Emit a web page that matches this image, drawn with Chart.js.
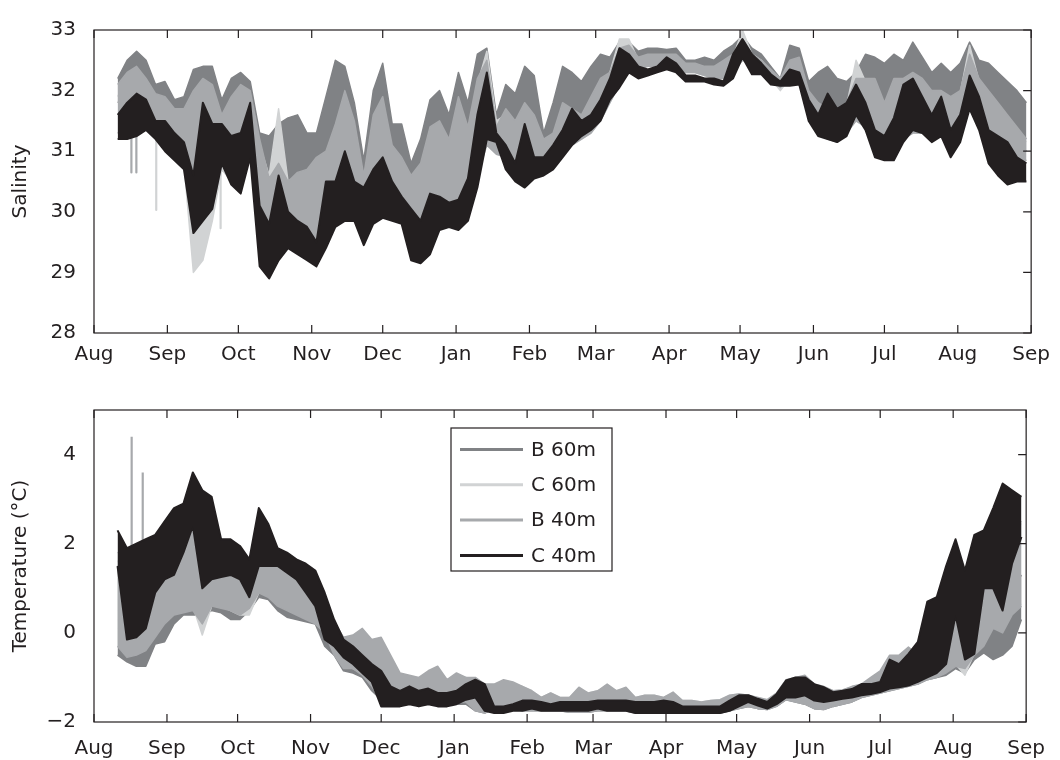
<!DOCTYPE html>
<html>
<head>
<meta charset="utf-8">
<script src="https://cdn.jsdelivr.net/npm/chart.js@4.4.1/dist/chart.umd.min.js"></script>
<style>
  html, body { margin: 0; padding: 0; background: #fff; }
  #wrap { position: relative; width: 1060px; height: 760px; }
  canvas { position: absolute; left: 0; }
  #salinity { top: 0; }
  #temperature { top: 380px; }
</style>
</head>
<body>
<div id="wrap">
  <canvas id="salinity" width="1060" height="380"></canvas>
  <canvas id="temperature" width="1060" height="380"></canvas>
</div>
<script>
'use strict';

// days since 1 Aug, month boundaries for the axis
var monthStarts = [0, 31, 61, 92, 122, 153, 184, 212, 243, 273, 304, 334, 365, 396];
var monthLabels = ['Aug', 'Sep', 'Oct', 'Nov', 'Dec', 'Jan', 'Feb', 'Mar', 'Apr', 'May', 'Jun', 'Jul', 'Aug', 'Sep'];

var salTicks = [28, 29, 30, 31, 32, 33];
var tmpTicks = [-2, 0, 2, 4];

var seriesNames = ['B 60m', 'C 60m', 'B 40m', 'C 40m'];
var seriesColors = ['#808285', '#d1d3d4', '#a7a9ac', '#231f20'];

// sample days (every 4 days), each series given as the upper / lower edge of its noisy band
var days = [10, 14, 18, 22, 26, 30,
    34, 38, 42, 46, 50, 54, 58,
    62, 66, 70, 74, 78, 82, 86, 90,
    94, 98, 102, 106, 110, 114, 118,
    122, 126, 130, 134, 138, 142, 146, 150,
    154, 158, 162, 166, 170, 174, 178, 182,
    186, 190, 194, 198, 202, 206, 210,
    214, 218, 222, 226, 230, 234, 238, 242,
    246, 250, 254, 258, 262, 266, 270,
    274, 278, 282, 286, 290, 294, 298, 302,
    306, 310, 314, 318, 322, 326, 330,
    334, 338, 342, 346, 350, 354, 358, 362,
    366, 370, 374, 378, 382, 386, 390, 394];

// ---- salinity ----
var salB60Hi = [32.2, 32.5, 32.65, 32.5, 32.1, 32.15,
    31.85, 31.9, 32.35, 32.4, 32.4, 31.85, 32.2,
    32.3, 32.15, 31.3, 31.25, 31.45, 31.55, 31.6, 31.3,
    31.3, 31.9, 32.5, 32.4, 31.8, 30.85, 32.0,
    32.45, 31.45, 31.45, 30.8, 31.2, 31.85, 32.0, 31.6,
    32.3, 31.8, 32.6, 32.7, 31.6, 32.1, 31.95, 32.4,
    32.25, 31.3, 31.8, 32.4, 32.3, 32.15, 32.4,
    32.6, 32.55, 32.8, 32.8, 32.65, 32.7, 32.7, 32.68,
    32.7, 32.5, 32.5, 32.55, 32.5, 32.65, 32.75,
    32.9, 32.7, 32.6, 32.4, 32.2, 32.75, 32.7, 32.15,
    32.3, 32.4, 32.2, 32.15, 32.3, 32.6, 32.55,
    32.45, 32.6, 32.5, 32.8, 32.55, 32.3, 32.45, 32.3,
    32.45, 32.8, 32.5, 32.45, 32.3, 32.15, 32.0, 31.8];
var salB60Lo = [31.8, 31.9, 32.0, 31.9, 31.7, 31.6,
    31.4, 31.3, 31.4, 31.5, 31.4, 31.2, 31.3,
    31.4, 31.4, 30.5, 30.3, 30.5, 30.4, 30.4, 30.4,
    30.5, 30.6, 30.9, 31.2, 30.8, 30.2, 30.6,
    30.9, 30.5, 30.4, 30.0, 30.1, 30.5, 30.7, 30.6,
    30.9, 30.8, 31.4, 31.8, 31.2, 31.2, 31.0, 31.1,
    31.1, 30.9, 31.0, 31.3, 31.4, 31.4, 31.6,
    31.9, 32.0, 32.3, 32.4, 32.4, 32.45, 32.45, 32.5,
    32.5, 32.35, 32.35, 32.3, 32.25, 32.3, 32.4,
    32.6, 32.5, 32.4, 32.25, 32.1, 32.3, 32.3, 31.7,
    31.5, 31.4, 31.4, 31.5, 31.7, 31.7, 31.4,
    31.3, 31.5, 31.6, 31.7, 31.6, 31.6, 31.6, 31.5,
    31.6, 32.0, 31.7, 31.4, 31.3, 31.2, 31.1, 31.0];
var salC60Hi = [31.9, 32.2, 32.3, 32.1, 31.8, 31.8,
    31.6, 31.6, 31.8, 32.0, 31.9, 31.5, 31.8,
    32.0, 31.9, 31.1, 30.6, 31.7, 30.5, 30.6, 30.6,
    30.8, 30.9, 31.3, 31.8, 31.4, 30.5, 31.5,
    31.8, 31.0, 30.8, 30.5, 30.7, 31.3, 31.4, 31.1,
    31.8, 31.3, 32.1, 32.65, 31.5, 31.6, 31.4, 31.7,
    31.5, 31.1, 31.2, 31.7, 31.6, 31.5, 31.8,
    32.1, 32.3, 32.85, 32.85, 32.5, 32.55, 32.55, 32.55,
    32.55, 32.4, 32.4, 32.35, 32.35, 32.45, 32.55,
    33.0, 32.6, 32.5, 32.3, 32.15, 32.45, 32.5, 31.95,
    31.75, 31.65, 31.65, 31.75, 32.5, 32.15, 32.1,
    31.75, 32.1, 32.1, 32.25, 32.1, 31.95, 31.95, 31.85,
    31.95, 32.75, 32.15, 31.95, 31.75, 31.55, 31.35, 31.15];
var salC60Lo = [31.3, 31.4, 31.4, 31.4, 31.3, 31.2,
    31.05, 30.8, 29.0, 29.2, 29.85, 30.7, 30.5,
    30.5, 31.0, 29.6, 29.4, 29.5, 29.6, 29.6, 29.6,
    29.6, 29.9, 30.1, 30.2, 30.1, 29.7, 30.0,
    30.0, 30.0, 29.9, 29.5, 29.5, 29.7, 29.9, 30.0,
    30.2, 30.3, 30.7, 31.2, 31.0, 30.9, 30.7, 30.6,
    30.7, 30.7, 30.8, 31.0, 31.1, 31.2, 31.3,
    31.5, 31.8, 32.1, 32.3, 32.35, 32.4, 32.4, 32.45,
    32.45, 32.3, 32.3, 32.25, 32.2, 32.2, 32.3,
    32.5, 32.45, 32.35, 32.2, 32.0, 32.2, 32.2, 31.6,
    31.3, 31.2, 31.15, 31.3, 31.5, 31.4, 31.0,
    30.9, 31.0, 31.2, 31.3, 31.3, 31.4, 31.3, 31.2,
    31.3, 31.7, 31.4, 31.0, 30.9, 30.8, 30.8, 30.85];
var salB40Hi = [32.1, 32.3, 32.4, 32.2, 31.95, 31.9,
    31.7, 31.7, 32.0, 32.2, 32.1, 31.6, 31.9,
    32.1, 32.0, 31.2, 30.55, 30.8, 30.5, 30.65, 30.7,
    30.9, 31.0, 31.45, 32.0, 31.5, 30.6, 31.6,
    31.9, 31.1, 30.9, 30.6, 30.8, 31.4, 31.5, 31.2,
    31.9, 31.4, 32.2, 32.5, 31.4, 31.7, 31.5, 31.8,
    31.6, 31.2, 31.3, 31.8, 31.7, 31.6, 31.9,
    32.2, 32.3, 32.7, 32.75, 32.55, 32.6, 32.6, 32.6,
    32.6, 32.45, 32.45, 32.4, 32.4, 32.5, 32.6,
    32.85, 32.6, 32.5, 32.35, 32.2, 32.5, 32.55, 32.0,
    31.8, 31.7, 31.7, 31.8, 32.2, 32.2, 32.2,
    31.8, 32.2, 32.2, 32.3, 32.2, 32.0, 32.0, 31.9,
    32.0, 32.6, 32.2, 32.0, 31.8, 31.6, 31.4, 31.2];
var salB40Lo = [31.3, 31.3, 31.4, 31.4, 31.35, 31.1,
    31.0, 30.9, 30.4, 30.05, 30.05, 30.8, 30.55,
    30.5, 31.0, 29.55, 29.3, 29.3, 29.55, 29.5, 29.5,
    29.5, 29.8, 30.05, 30.05, 30.05, 29.6, 29.9,
    29.95, 29.95, 29.8, 29.4, 29.4, 29.6, 29.85, 29.9,
    30.1, 30.2, 30.6, 31.1, 30.95, 30.9, 30.65, 30.55,
    30.6, 30.7, 30.8, 31.0, 31.1, 31.2, 31.3,
    31.5, 31.8, 32.1, 32.3, 32.35, 32.4, 32.4, 32.45,
    32.45, 32.3, 32.3, 32.25, 32.2, 32.2, 32.3,
    32.5, 32.45, 32.35, 32.2, 32.05, 32.2, 32.2, 31.6,
    31.3, 31.2, 31.15, 31.3, 31.5, 31.4, 31.0,
    30.9, 31.0, 31.2, 31.3, 31.3, 31.4, 31.3, 31.2,
    31.3, 31.7, 31.4, 31.0, 30.9, 30.8, 30.8, 30.85];
var salC40Hi = [31.6, 31.8, 31.95, 31.85, 31.5, 31.5,
    31.3, 31.15, 30.6, 31.8, 31.45, 31.45, 31.25,
    31.3, 31.8, 30.1, 29.8, 30.6, 30.0, 29.85, 29.75,
    29.5, 30.5, 30.5, 31.0, 30.5, 30.4, 30.7,
    30.9, 30.5, 30.25, 30.05, 29.85, 30.3, 30.25, 30.15,
    30.2, 30.55, 31.6, 32.3, 31.3, 31.1, 30.8, 31.45,
    30.9, 30.9, 31.1, 31.35, 31.7, 31.5, 31.6,
    31.85, 32.2, 32.7, 32.6, 32.4, 32.35, 32.4, 32.55,
    32.45, 32.25, 32.25, 32.2, 32.2, 32.15, 32.6,
    32.85, 32.6, 32.45, 32.27, 32.15, 32.35, 32.3, 31.85,
    31.6, 31.95, 31.7, 31.8, 32.1, 31.8, 31.35,
    31.25, 31.55, 32.1, 32.2, 31.9, 31.6, 31.9, 31.35,
    31.6, 32.25, 31.9, 31.35, 31.25, 31.15, 30.9, 30.8];
var salC40Lo = [31.2, 31.2, 31.25, 31.35, 31.2, 31.0,
    30.85, 30.7, 29.65, 29.85, 30.05, 30.8, 30.45,
    30.3, 30.9, 29.1, 28.9, 29.2, 29.4, 29.3, 29.2,
    29.1, 29.4, 29.75, 29.85, 29.85, 29.45, 29.8,
    29.9, 29.85, 29.8, 29.2, 29.15, 29.3, 29.7, 29.75,
    29.7, 29.85, 30.4, 31.2, 31.15, 30.7, 30.5, 30.4,
    30.55, 30.6, 30.7, 30.9, 31.1, 31.25, 31.35,
    31.5, 31.85, 32.05, 32.3, 32.2, 32.25, 32.3, 32.35,
    32.3, 32.15, 32.15, 32.15, 32.1, 32.08, 32.2,
    32.55, 32.27, 32.27, 32.1, 32.08, 32.08, 32.1, 31.5,
    31.25, 31.2, 31.15, 31.25, 31.6, 31.35, 30.9,
    30.85, 30.85, 31.15, 31.35, 31.3, 31.15, 31.25, 30.9,
    31.15, 31.7, 31.35, 30.8, 30.6, 30.45, 30.5, 30.5];

// single-sample spikes in salinity: [series index, day, from, to]
var salSpikes = [
    [2, 15.8, 31.3, 30.65],
    [2, 17.9, 31.3, 30.65],
    [1, 26.3, 31.3, 30.03],
    [1, 53.5, 30.8, 29.73]
];

// ---- temperature ----
var tmpB60Hi = [1.5, 1.4, 1.3, 1.2, 1.3, 1.5,
    1.7, 1.8, 1.6, 1.4, 1.5, 1.2, 1.1,
    1.0, 0.9, 1.5, 1.4, 1.1, 1.0, 0.9, 0.8,
    0.7, 0.5, 0.1, -0.2, -0.3, -0.4, -0.5,
    -0.6, -0.9, -1.1, -1.1, -1.15, -1.0, -0.9, -1.1,
    -1.0, -1.05, -1.1, -1.2, -1.2, -1.1, -1.15, -1.25,
    -1.35, -1.5, -1.4, -1.5, -1.5, -1.3, -1.4,
    -1.35, -1.2, -1.35, -1.25, -1.5, -1.45, -1.45, -1.5,
    -1.4, -1.55, -1.55, -1.58, -1.55, -1.52, -1.42,
    -1.4, -1.42, -1.48, -1.52, -1.38, -1.1, -1.05, -1.0,
    -1.2, -1.25, -1.33, -1.3, -1.25, -1.2, -1.1,
    -1.0, -0.7, -0.75, -0.6, -0.7, -0.7, 0.0, 0.2,
    0.4, 0.3, 0.6, 0.8, 0.9, 0.7, 0.9, 1.3];
var tmpB60Lo = [-0.5, -0.65, -0.75, -0.75, -0.25, -0.2,
    0.2, 0.4, 0.4, 0.4, 0.5, 0.45, 0.3,
    0.3, 0.5, 0.8, 0.75, 0.5, 0.35, 0.3, 0.25,
    0.2, -0.3, -0.5, -0.85, -0.9, -1.0, -1.3,
    -1.5, -1.55, -1.55, -1.5, -1.55, -1.55, -1.55, -1.6,
    -1.6, -1.6, -1.75, -1.8, -1.7, -1.7, -1.7, -1.75,
    -1.75, -1.75, -1.75, -1.75, -1.78, -1.78, -1.78,
    -1.75, -1.75, -1.75, -1.75, -1.8, -1.8, -1.8, -1.8,
    -1.8, -1.8, -1.8, -1.8, -1.8, -1.8, -1.75,
    -1.7, -1.65, -1.7, -1.72, -1.65, -1.5, -1.55, -1.6,
    -1.7, -1.72, -1.65, -1.6, -1.55, -1.45, -1.4,
    -1.35, -1.3, -1.25, -1.2, -1.15, -1.05, -1.0, -0.95,
    -0.8, -0.9, -0.6, -0.45, -0.6, -0.5, -0.3, 0.3];
var tmpC60Hi = [1.6, 1.7, 1.5, 1.4, 1.6, 2.0,
    2.2, 2.5, 2.4, 2.3, 2.6, 1.8, 1.6,
    1.4, 1.2, 2.2, 2.0, 1.5, 1.4, 1.3, 1.2,
    1.1, 0.7, 0.2, -0.1, -0.1, 0.0, -0.3,
    -0.2, -0.6, -0.95, -1.0, -1.05, -0.9, -0.8, -1.05,
    -0.95, -1.0, -1.05, -1.15, -1.2, -1.1, -1.15, -1.2,
    -1.3, -1.45, -1.35, -1.45, -1.45, -1.25, -1.35,
    -1.3, -1.2, -1.3, -1.25, -1.45, -1.4, -1.4, -1.45,
    -1.35, -1.52, -1.52, -1.55, -1.52, -1.5, -1.4,
    -1.37, -1.4, -1.45, -1.5, -1.35, -1.08, -1.02, -0.98,
    -1.17, -1.22, -1.3, -1.28, -1.22, -1.17, -1.05,
    -0.9, -0.55, -0.55, -0.4, -0.55, -0.6, 0.2, 0.45,
    0.75, 0.55, 1.2, 1.25, 1.75, 2.25, 2.35, 2.45];
var tmpC60Lo = [-0.3, -0.4, -0.4, -0.35, 0.0, 0.3,
    0.5, 0.5, 0.6, -0.05, 0.6, 0.6, 0.5,
    0.4, 0.4, 0.9, 0.85, 0.7, 0.6, 0.5, 0.4,
    0.3, 0.0, -0.4, -0.7, -0.8, -0.9, -1.1,
    -1.4, -1.45, -1.45, -1.4, -1.45, -1.45, -1.45, -1.5,
    -1.5, -1.5, -1.6, -1.7, -1.65, -1.65, -1.65, -1.7,
    -1.7, -1.7, -1.7, -1.7, -1.72, -1.72, -1.72,
    -1.7, -1.7, -1.7, -1.7, -1.75, -1.75, -1.75, -1.75,
    -1.75, -1.75, -1.75, -1.75, -1.75, -1.75, -1.72,
    -1.68, -1.62, -1.68, -1.7, -1.62, -1.48, -1.5, -1.55,
    -1.65, -1.68, -1.62, -1.58, -1.52, -1.43, -1.38,
    -1.33, -1.28, -1.22, -1.18, -1.12, -1.02, -0.95, -0.85,
    -0.7, -0.95, -0.45, -0.25, 0.15, 0.05, 0.45, 0.65];
var tmpB40Hi = [1.8, 1.85, 1.6, 1.5, 1.8, 2.2,
    2.4, 2.7, 2.6, 2.5, 2.85, 1.9, 1.7,
    1.5, 1.3, 2.4, 2.1, 1.5, 1.5, 1.4, 1.3,
    1.2, 0.8, 0.25, -0.1, -0.05, 0.1, -0.15,
    -0.1, -0.5, -0.9, -0.95, -1.0, -0.85, -0.75, -1.05,
    -0.9, -1.0, -1.0, -1.15, -1.15, -1.05, -1.1, -1.2,
    -1.3, -1.45, -1.35, -1.45, -1.45, -1.22, -1.35,
    -1.3, -1.15, -1.3, -1.22, -1.45, -1.4, -1.4, -1.45,
    -1.33, -1.52, -1.52, -1.55, -1.52, -1.5, -1.4,
    -1.37, -1.4, -1.45, -1.5, -1.35, -1.05, -1.0, -0.95,
    -1.15, -1.2, -1.3, -1.28, -1.2, -1.15, -1.0,
    -0.85, -0.5, -0.5, -0.32, -0.5, -0.6, 0.28, 0.5,
    0.8, 0.6, 1.25, 1.3, 1.8, 2.3, 2.4, 2.5];
var tmpB40Lo = [-0.3, -0.55, -0.5, -0.4, -0.1, 0.2,
    0.4, 0.45, 0.5, 0.2, 0.6, 0.55, 0.5,
    0.4, 0.55, 0.9, 0.8, 0.6, 0.5, 0.4, 0.3,
    0.2, 0.0, -0.5, -0.8, -0.8, -0.95, -1.2,
    -1.5, -1.5, -1.5, -1.45, -1.5, -1.5, -1.5, -1.55,
    -1.55, -1.55, -1.75, -1.8, -1.7, -1.7, -1.7, -1.75,
    -1.75, -1.75, -1.75, -1.75, -1.78, -1.78, -1.78,
    -1.75, -1.75, -1.75, -1.75, -1.8, -1.8, -1.8, -1.8,
    -1.8, -1.8, -1.8, -1.8, -1.8, -1.8, -1.75,
    -1.7, -1.65, -1.7, -1.72, -1.65, -1.5, -1.55, -1.6,
    -1.7, -1.72, -1.65, -1.6, -1.55, -1.45, -1.4,
    -1.35, -1.3, -1.25, -1.2, -1.15, -1.05, -1.0, -0.9,
    -0.75, -0.8, -0.5, -0.3, 0.1, 0.0, 0.4, 0.6];
var tmpC40Hi = [2.3, 1.9, 2.0, 2.1, 2.2, 2.5,
    2.8, 2.9, 3.6, 3.2, 3.05, 2.1, 2.1,
    1.95, 1.65, 2.8, 2.45, 1.9, 1.8, 1.65, 1.55,
    1.4, 0.9, 0.3, -0.15, -0.3, -0.5, -0.7,
    -0.85, -1.2, -1.3, -1.2, -1.3, -1.25, -1.35, -1.35,
    -1.3, -1.15, -1.05, -1.15, -1.65, -1.65, -1.6, -1.52,
    -1.52, -1.55, -1.6, -1.55, -1.55, -1.55, -1.55,
    -1.52, -1.52, -1.52, -1.52, -1.55, -1.55, -1.55, -1.52,
    -1.55, -1.65, -1.65, -1.65, -1.65, -1.65, -1.52,
    -1.4, -1.4, -1.48, -1.55, -1.37, -1.07, -1.0, -1.0,
    -1.15, -1.22, -1.33, -1.3, -1.26, -1.15, -1.15,
    -1.1, -0.6, -0.7, -0.47, -0.2, 0.7, 0.8, 1.5,
    2.1, 1.4, 2.2, 2.3, 2.8, 3.35, 3.2, 3.05];
var tmpC40Lo = [1.5, -0.15, -0.1, 0.1, 0.9, 1.2,
    1.3, 1.8, 2.4, 1.0, 1.2, 1.25, 1.3,
    1.2, 0.8, 1.5, 1.5, 1.5, 1.35, 1.2, 0.9,
    0.6, -0.15, -0.3, -0.55, -0.7, -0.9, -1.1,
    -1.65, -1.65, -1.65, -1.6, -1.65, -1.6, -1.65, -1.65,
    -1.6, -1.5, -1.45, -1.75, -1.8, -1.8, -1.75, -1.75,
    -1.7, -1.75, -1.75, -1.75, -1.75, -1.75, -1.75,
    -1.7, -1.75, -1.75, -1.75, -1.8, -1.8, -1.8, -1.8,
    -1.8, -1.8, -1.8, -1.8, -1.8, -1.8, -1.75,
    -1.65, -1.55, -1.63, -1.7, -1.6, -1.45, -1.45, -1.4,
    -1.52, -1.55, -1.52, -1.48, -1.45, -1.4, -1.37,
    -1.33, -1.25, -1.22, -1.18, -1.1, -1.0, -0.9, -0.7,
    0.4, -0.6, -0.47, 1.0, 1.0, 0.5, 1.55, 2.15];

var tmpSpikes = [
    [2, 16.0, 1.8, 4.4],
    [2, 20.7, 1.6, 3.6]
];

var ink = '#231f20';
var fontFamily = '"DejaVu Sans", "Liberation Sans", sans-serif';

Chart.defaults.font.family = fontFamily;
Chart.defaults.font.size = 20;
Chart.defaults.color = ink;

function toPoints(values) {
    var pts = [];
    for (var i = 0; i < days.length; i++) {
        pts.push({ x: days[i], y: values[i] });
    }
    return pts;
}

// dataset 0 is painted last in Chart.js, so C 40m goes first
function buildDatasets(his, los, spikes) {
    var out = [];
    for (var s = seriesNames.length - 1; s >= 0; s--) {
        var color = seriesColors[s];
        var w = s === 3 ? 2 : 1.5;
        out.push({
            label: seriesNames[s], data: toPoints(his[s]),
            borderColor: color, backgroundColor: color, borderWidth: w, fill: '+1'
        });
        out.push({
            label: seriesNames[s] + ' low', data: toPoints(los[s]),
            borderColor: color, borderWidth: w, fill: false
        });
    }
    for (var k = 0; k < spikes.length; k++) {
        var sp = spikes[k];
        out.push({
            label: 'spike', data: [{ x: sp[1], y: sp[2] }, { x: sp[1], y: sp[3] }],
            borderColor: seriesColors[sp[0]], borderWidth: 2.2, fill: false
        });
    }
    return out;
}

var framePlugin = {
    id: 'frame',
    afterDraw: function (chart) {
        var ctx = chart.ctx;
        var a = chart.chartArea;
        var xs = chart.scales.x;
        var ys = chart.scales.y;
        ctx.save();
        ctx.strokeStyle = ink;
        ctx.lineWidth = 1.2;
        ctx.strokeRect(a.left, a.top, a.right - a.left, a.bottom - a.top);
        ctx.beginPath();
        xs.ticks.forEach(function (t) {
            var px = xs.getPixelForValue(t.value);
            ctx.moveTo(px, a.bottom);
            ctx.lineTo(px, a.bottom - 8);
            ctx.moveTo(px, a.top);
            ctx.lineTo(px, a.top + 8);
        });
        ys.ticks.forEach(function (t) {
            var py = ys.getPixelForValue(t.value);
            ctx.moveTo(a.right, py);
            ctx.lineTo(a.right - 8, py);
        });
        ctx.stroke();
        ctx.restore();
    }
};

var legendBoxPlugin = {
    id: 'legendBox',
    afterDraw: function (chart) {
        var ctx = chart.ctx;
        var a = chart.chartArea;
        var left = a.left + 357;
        var top = a.top + 18;
        ctx.save();
        ctx.fillStyle = '#fff';
        ctx.fillRect(left, top, 161, 143);
        ctx.strokeStyle = ink;
        ctx.lineWidth = 1.2;
        ctx.strokeRect(left, top, 161, 143);
        ctx.font = '20px ' + fontFamily;
        ctx.textBaseline = 'middle';
        ctx.textAlign = 'left';
        for (var s = 0; s < seriesNames.length; s++) {
            var y = top + 21.5 + s * 35.3;
            ctx.strokeStyle = seriesColors[s];
            ctx.lineWidth = 3;
            ctx.beginPath();
            ctx.moveTo(left + 9, y);
            ctx.lineTo(left + 72, y);
            ctx.stroke();
            ctx.fillStyle = ink;
            ctx.fillText(seriesNames[s], left + 80, y + 1);
        }
        ctx.restore();
    }
};

function makeChart(canvasId, datasets, yOpts, layoutTop, xHeight, xPad, plugins) {
    return new Chart(document.getElementById(canvasId), {
        type: 'line',
        data: { datasets: datasets },
        options: {
            responsive: false,
            animation: false,
            devicePixelRatio: 1,
            layout: { padding: { top: layoutTop, right: 21, left: 0, bottom: 0 } },
            elements: { point: { radius: 0 }, line: { tension: 0, borderJoinStyle: 'round' } },
            plugins: { legend: { display: false }, tooltip: { enabled: false } },
            scales: {
                x: {
                    type: 'linear', min: 0, max: 396,
                    grid: { display: false, drawTicks: false },
                    border: { display: false },
                    afterBuildTicks: function (scale) {
                        scale.ticks = monthStarts.map(function (v) { return { value: v }; });
                    },
                    afterFit: function (scale) { scale.height = xHeight; },
                    ticks: {
                        autoSkip: false, maxRotation: 0, padding: xPad,
                        callback: function (v) { return monthLabels[monthStarts.indexOf(v)]; }
                    }
                },
                y: {
                    min: yOpts.min, max: yOpts.max,
                    grid: { display: false, drawTicks: false },
                    border: { display: false },
                    afterBuildTicks: function (scale) {
                        scale.ticks = yOpts.ticks.map(function (v) { return { value: v }; });
                    },
                    afterFit: function (scale) { scale.width = 94; },
                    ticks: {
                        padding: 18,
                        callback: function (v) { return v < 0 ? '\u2212' + Math.abs(v) : String(v); }
                    },
                    title: { display: true, text: yOpts.title, font: { size: 20 }, padding: { top: 9, bottom: 0 } }
                }
            }
        },
        plugins: plugins
    });
}

makeChart('salinity',
    buildDatasets([salB60Hi, salC60Hi, salB40Hi, salC40Hi], [salB60Lo, salC60Lo, salB40Lo, salC40Lo], salSpikes),
    { min: 28, max: 33, ticks: salTicks, title: 'Salinity' },
    25, 47, 10, [framePlugin]);

makeChart('temperature',
    buildDatasets([tmpB60Hi, tmpC60Hi, tmpB40Hi, tmpC40Hi], [tmpB60Lo, tmpC60Lo, tmpB40Lo, tmpC40Lo], tmpSpikes),
    { min: -2, max: 5, ticks: tmpTicks, title: 'Temperature (\u00B0C)' },
    30, 38, 15, [framePlugin, legendBoxPlugin]);
</script>
</body>
</html>
